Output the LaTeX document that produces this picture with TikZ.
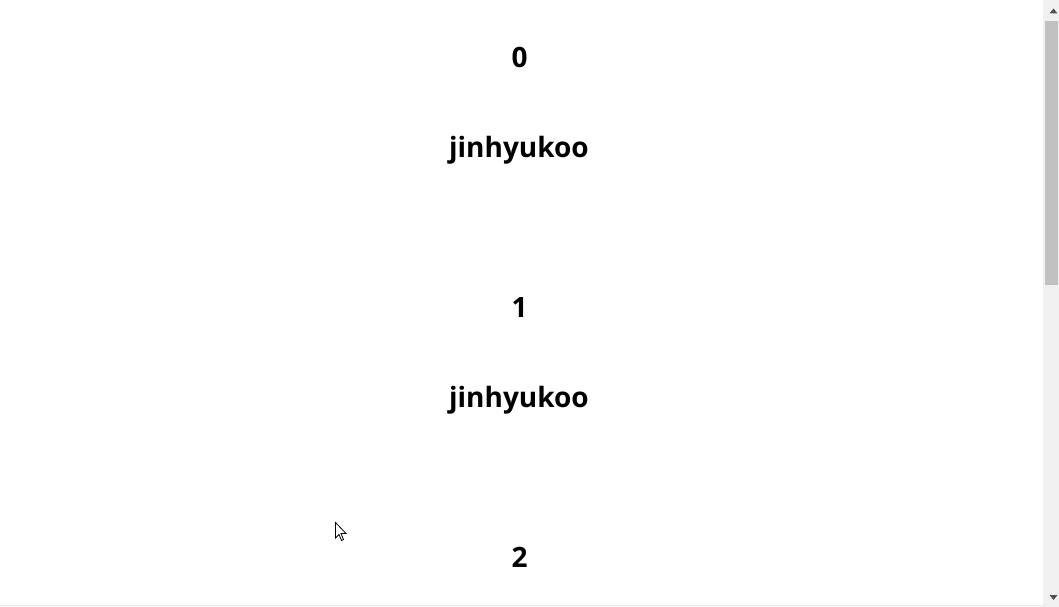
\documentclass[tikz,border=0pt]{standalone}
\usepackage{fontspec}
\setmainfont{Open Sans}
\definecolor{track}{HTML}{F0F0F0}
\definecolor{thumb}{HTML}{C1C1C1}
\definecolor{arrowc}{HTML}{505050}
\definecolor{edge}{HTML}{E8E8E8}
\begin{document}
\begin{tikzpicture}[x=1pt,y=-1pt,
  lbl/.style={font=\fontsize{28}{34}\selectfont\bfseries, inner sep=0pt, anchor=base, text=black}]
\useasboundingbox (0,0) rectangle (1059,607);
\fill[white] (0,0) rectangle (1059,607);
% scrollbar
\fill[track] (1043,0) rectangle (1059,607);
\fill[thumb] (1045,21) rectangle (1058,285);
\fill[arrowc] (1049.5,13.5) -- (1057.5,13.5) -- (1053.5,8.5) -- cycle;
\fill[arrowc] (1049.5,595) -- (1057.5,595) -- (1053.5,600) -- cycle;
\draw[edge] (0,605.5) -- (1043,605.5);
% texts
\node[lbl] (n0) at (519.5,67.5) {0};
\node[lbl] (u0) at (519,157.5) {jinhyukoo};
\node[lbl] (n1) at (519.5,317.5) {1};
\node[lbl] (u1) at (519,407.5) {jinhyukoo};
\node[lbl] (n2) at (519.5,567.5) {2};
% cursor
\draw[fill=white, line width=0.8pt, line join=miter]
  (335.5,522.5) -- (335.5,538) -- (339,534.5) -- (341.5,540.5) -- (343.5,539.5) -- (341,533.5) -- (346,533.5) -- cycle;
\end{tikzpicture}
\end{document}
